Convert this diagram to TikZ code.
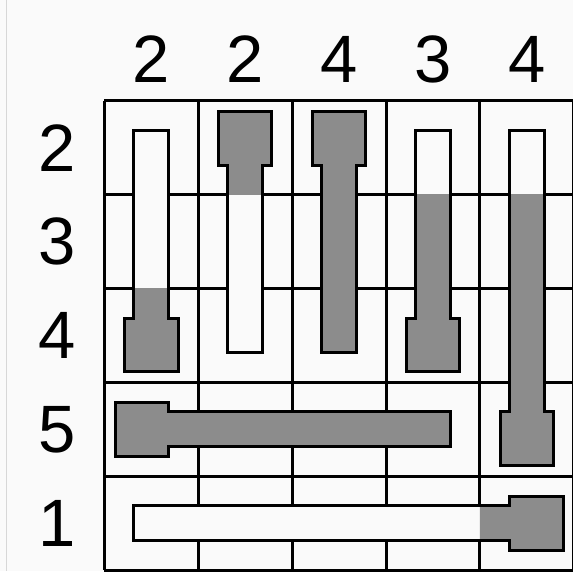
\documentclass[tikz,border=0pt]{standalone}
\usepackage{fontspec}
\setmainfont{Liberation Sans}
\definecolor{bg}{RGB}{250,250,250}
\definecolor{fillgray}{RGB}{140,140,140}
\definecolor{edgegray}{RGB}{215,215,215}
\tikzset{
  gridline/.style={line width=3pt, black},
  thermo/.style={line width=3pt, black, line join=miter},
  label/.style={inner sep=0pt, font=\fontsize{67}{67}\selectfont},
}
\begin{document}
\begin{tikzpicture}[x=1pt,y=-1pt]
\useasboundingbox (0,0) rectangle (573,571);
\fill[bg] (0,0) rectangle (573,571);
\draw[edgegray, line width=1pt] (6,0) -- (6,571);
% labels
\foreach \t [count=\i from 0] in {2,2,4,3,4}
  \node[label] (col\i) at ({104.3+93.9*(\i+0.5)},59) {\t};
\foreach \t [count=\i from 0] in {2,3,4,5,1}
  \node[label] (row\i) at (57.5,{100.7+93.9*(\i+0.5)}) {\t};
\begin{scope}[shift={(104.3,100.7)}, x=93.9pt, y=-93.9pt]
  % grid
  \foreach \k in {0,...,5} {
    \draw[gridline] (\k,0) -- (\k,5);
    \draw[gridline] (0,\k) -- (5,\k);
  }
  % thermometer paths
  % col 0, bulb bottom row 2, tube top row 0
  \def\tA{(0.315,0.315) -- (0.685,0.315) -- (0.685,2.315) -- (0.785,2.315) -- (0.785,2.885) -- (0.215,2.885) -- (0.215,2.315) -- (0.315,2.315) -- cycle}
  % col 1, bulb top row 0, tube end row 2
  \def\tB{(1.215,0.115) -- (1.785,0.115) -- (1.785,0.685) -- (1.685,0.685) -- (1.685,2.685) -- (1.315,2.685) -- (1.315,0.685) -- (1.215,0.685) -- cycle}
  % col 2, bulb top row 0, tube end row 2
  \def\tC{(2.215,0.115) -- (2.785,0.115) -- (2.785,0.685) -- (2.685,0.685) -- (2.685,2.685) -- (2.315,2.685) -- (2.315,0.685) -- (2.215,0.685) -- cycle}
  % col 3, bulb bottom row 2
  \def\tD{(3.315,0.315) -- (3.685,0.315) -- (3.685,2.315) -- (3.785,2.315) -- (3.785,2.885) -- (3.215,2.885) -- (3.215,2.315) -- (3.315,2.315) -- cycle}
  % col 4, bulb bottom row 3
  \def\tE{(4.315,0.315) -- (4.685,0.315) -- (4.685,3.315) -- (4.785,3.315) -- (4.785,3.885) -- (4.215,3.885) -- (4.215,3.315) -- (4.315,3.315) -- cycle}
  % row 3, bulb left col 0, tube end col 3
  \def\tF{(0.115,3.215) -- (0.685,3.215) -- (0.685,3.315) -- (3.685,3.315) -- (3.685,3.685) -- (0.685,3.685) -- (0.685,3.785) -- (0.115,3.785) -- cycle}
  % row 4, bulb right col 4, tube start col 0
  \def\tG{(0.315,4.315) -- (4.315,4.315) -- (4.315,4.215) -- (4.885,4.215) -- (4.885,4.785) -- (4.315,4.785) -- (4.315,4.685) -- (0.315,4.685) -- cycle}
  \foreach \p/\cl in {\tA/{(0,2) rectangle (1,3)},
                      \tB/{(1,0) rectangle (2,1)},
                      \tC/{(2,0) rectangle (3,3)},
                      \tD/{(3,1) rectangle (4,3)},
                      \tE/{(4,1) rectangle (5,4)},
                      \tF/{(0,3) rectangle (4,4)},
                      \tG/{(4,4) rectangle (5,5)}} {
    \fill[bg] \p;
    \begin{scope}
      \clip \cl;
      \fill[fillgray] \p;
    \end{scope}
    \draw[thermo] \p;
  }
\end{scope}
\end{tikzpicture}
\end{document}
